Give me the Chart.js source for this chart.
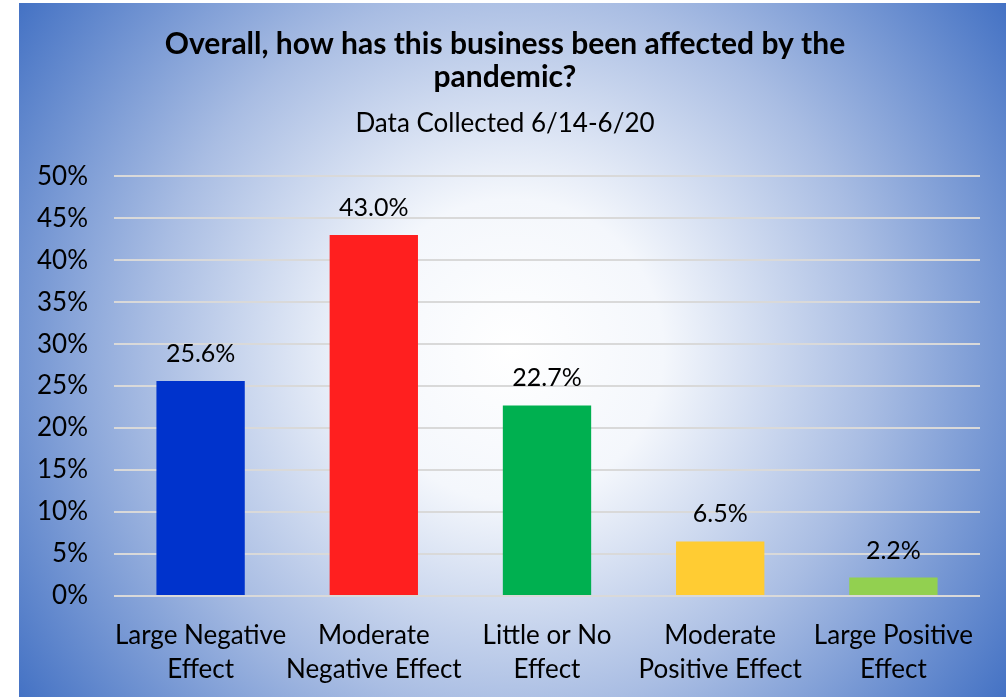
<!DOCTYPE html>
<html>
<head>
<meta charset="utf-8">
<script src="https://cdn.jsdelivr.net/npm/chart.js@4"></script>
<style>
  html, body { margin: 0; padding: 0; background: #fff; }
  #wrap { width: 1006px; height: 697px; }
</style>
</head>
<body>
<div id="wrap"><canvas id="effect"></canvas></div>
<script>
const categories = [
  ['Large Negative', 'Effect'],
  ['Moderate', 'Negative Effect'],
  ['Little or No', 'Effect'],
  ['Moderate', 'Positive Effect'],
  ['Large Positive', 'Effect']
];
const shares = [25.6, 43.0, 22.7, 6.5, 2.2];
const barColors = ['#0033CC', '#FF1F1F', '#00B050', '#FFCC33', '#92D050'];
const titleLines = ['Overall, how has this business been affected by the', 'pandemic?'];
const subtitle = 'Data Collected 6/14-6/20';

const FONT = 'Lato, "Open Sans", sans-serif';

// blue-to-white radial fill behind everything
const backdrop = {
  id: 'backdrop',
  beforeDraw(chart) {
    const ctx = chart.ctx;
    const x0 = 19, y0 = 3, x1 = chart.width, y1 = chart.height;
    const cx = (x0 + x1) / 2, cy = (y0 + y1) / 2;
    const r = Math.hypot(x1 - cx, y1 - cy);
    const g = ctx.createRadialGradient(cx, cy, 0, cx, cy, r);
    g.addColorStop(0, '#ffffff');
    g.addColorStop(0.25, '#f4f7fc');
    g.addColorStop(0.6, '#a9bde3');
    g.addColorStop(1, '#4472C4');
    ctx.save();
    ctx.fillStyle = g;
    ctx.fillRect(x0, y0, x1 - x0, y1 - y0);
    ctx.restore();
  }
};

// value labels above each bar
const valueLabels = {
  id: 'valueLabels',
  afterDatasetsDraw(chart) {
    const ctx = chart.ctx;
    const meta = chart.getDatasetMeta(0);
    ctx.save();
    ctx.font = '25px ' + FONT;
    ctx.fillStyle = '#000';
    ctx.textAlign = 'center';
    ctx.textBaseline = 'middle';
    meta.data.forEach((bar, i) => {
      ctx.fillText(shares[i].toFixed(1) + '%', bar.x, bar.y - 27);
    });
    ctx.restore();
  }
};

new Chart(document.getElementById('effect'), {
  type: 'bar',
  data: {
    labels: categories,
    datasets: [{
      data: shares,
      backgroundColor: barColors,
      barPercentage: 0.51,
      categoryPercentage: 1.0
    }]
  },
  options: {
    responsive: true,
    maintainAspectRatio: false,
    animation: false,
    layout: { padding: { left: 30, right: 26, top: 28, bottom: 12 } },
    plugins: {
      legend: { display: false },
      tooltip: { enabled: false },
      title: {
        display: true,
        text: titleLines,
        color: '#000',
        font: { family: FONT, size: 30, weight: 'bold', lineHeight: 1.1 },
        padding: { top: 0, bottom: 14 }
      },
      subtitle: {
        display: true,
        text: subtitle,
        color: '#000',
        font: { family: FONT, size: 26, lineHeight: 1.2 },
        padding: { top: 0, bottom: 37 }
      }
    },
    scales: {
      x: {
        afterFit(scale) { scale.height = 89; },
        grid: { display: false },
        border: { display: false },
        ticks: {
          color: '#000',
          font: { family: FONT, size: 26, lineHeight: 1.3 },
          maxRotation: 0,
          autoSkip: false,
          padding: 15
        }
      },
      y: {
        min: 0,
        max: 50,
        afterFit(scale) { scale.width = 84; },
        grid: { color: '#d9d9d9', lineWidth: 2, drawTicks: false },
        border: { display: false },
        ticks: {
          stepSize: 5,
          color: '#000',
          font: { family: FONT, size: 26 },
          padding: 26,
          callback: v => v + '%'
        }
      }
    }
  },
  plugins: [backdrop, valueLabels]
});
</script>
</body>
</html>
